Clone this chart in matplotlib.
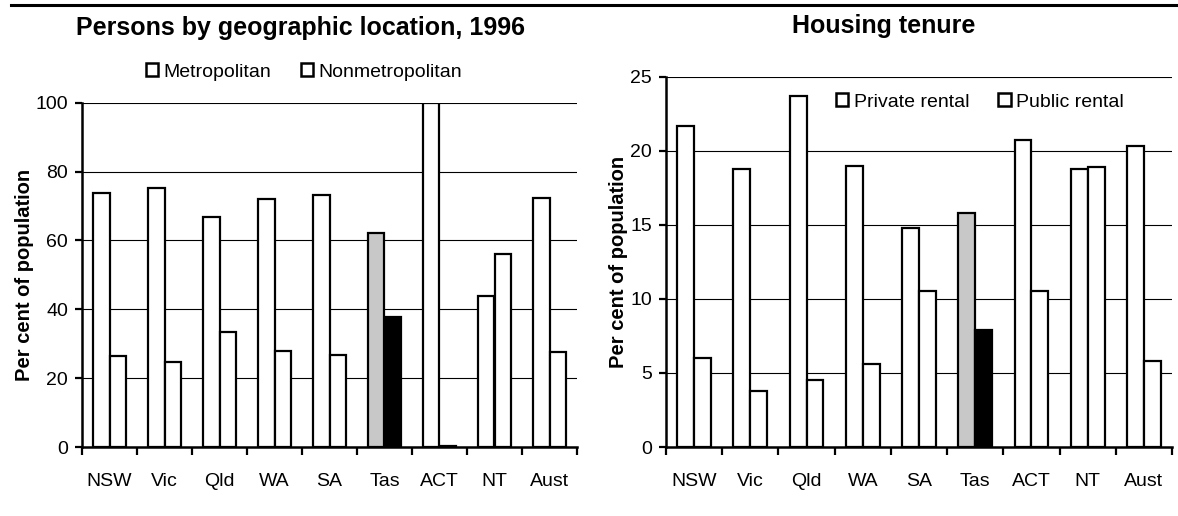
import matplotlib
matplotlib.use('Agg')
from matplotlib import pyplot as plt
from matplotlib.lines import Line2D
from matplotlib.patches import Rectangle
import numpy as np

plt.rcParams['font.family'] = ['Liberation Sans', 'DejaVu Sans']

states = ['NSW', 'Vic', 'Qld', 'WA', 'SA', 'Tas', 'ACT', 'NT', 'Aust']

metro = [73.7, 75.2, 66.7, 72.1, 73.2, 62.2, 99.9, 44.0, 72.3]
nonmetro = [26.3, 24.8, 33.3, 27.9, 26.8, 37.8, 0.2, 56.0, 27.7]

private_rental = [21.7, 18.8, 23.7, 19.0, 14.8, 15.8, 20.7, 18.8, 20.3]
public_rental = [6.0, 3.8, 4.5, 5.6, 10.5, 7.9, 10.5, 18.9, 5.8]

W, H = 1178, 516
fig = plt.figure(figsize=(W / 100, H / 100), dpi=100)


def px(x0, y0, x1, y1):
    # pixel box (left, top, right, bottom) -> figure rect
    return [x0 / W, 1 - y1 / H, (x1 - x0) / W, (y1 - y0) / H]


def panel(ax, a, b, ymax, step, labelpad):
    x = np.arange(len(states))
    w = 0.3
    b1 = ax.bar(x - w / 2, a, w, facecolor='white', edgecolor='black', linewidth=1.6, zorder=3)
    b2 = ax.bar(x + w / 2, b, w, facecolor='white', edgecolor='black', linewidth=1.6, zorder=3)
    tas = states.index('Tas')
    b1[tas].set_facecolor('#c8c8c8')
    b2[tas].set_facecolor('black')

    ax.set_xlim(-0.5, len(states) - 0.5)
    ax.set_ylim(0, ymax)
    ax.set_yticks(np.arange(0, ymax + 0.1, step))
    ax.set_xticks(np.arange(-0.5, len(states)), labels=[])
    ax.set_xticks(x, labels=states, minor=True)
    ax.tick_params(axis='x', which='major', direction='out', length=6, width=1.6)
    ax.tick_params(axis='x', which='minor', length=0, pad=19, labelsize=14)
    ax.tick_params(axis='y', direction='out', length=5, width=1.6, pad=5, labelsize=14)
    ax.yaxis.grid(True, color='black', linewidth=0.8)
    ax.set_axisbelow(True)
    for s in ['top', 'right']:
        ax.spines[s].set_visible(False)
    for s in ['left', 'bottom']:
        ax.spines[s].set_linewidth(1.8)
    ax.set_ylabel('Per cent of population', fontsize=14.5, fontweight='bold', labelpad=labelpad)


def legend(ax, labels, cx, cy):
    handles = [Rectangle((0, 0), 1, 1, facecolor='white', edgecolor='black', linewidth=1.8)
               for _ in labels]
    ax.legend(handles, labels, loc='center', bbox_to_anchor=(cx / W, 1 - cy / H),
              bbox_transform=fig.transFigure, ncol=2, frameon=False, fontsize=14,
              handlelength=0.62, handleheight=0.62, handletextpad=0.3,
              columnspacing=1.5, borderpad=0, borderaxespad=0)


ax1 = fig.add_axes(px(82, 102.7, 577, 447))
panel(ax1, metro, nonmetro, 100, 20, 1)
legend(ax1, ['Metropolitan', 'Nonmetropolitan'], 304, 72)

ax2 = fig.add_axes(px(666, 76.7, 1172, 447))
panel(ax2, private_rental, public_rental, 25, 5, 1.5)
legend(ax2, ['Private rental', 'Public rental'], 980, 102)

fig.text(300 / W, 1 - 35 / H, 'Persons by geographic location, 1996', ha='center',
         va='baseline', fontsize=18, fontweight='bold')
fig.text(884 / W, 1 - 33 / H, 'Housing tenure', ha='center', va='baseline',
         fontsize=18, fontweight='bold')

fig.add_artist(Line2D([11 / W, 1], [1 - 5 / H, 1 - 5 / H], color='black', linewidth=2.2))

fig.savefig('out.png', dpi=100)
